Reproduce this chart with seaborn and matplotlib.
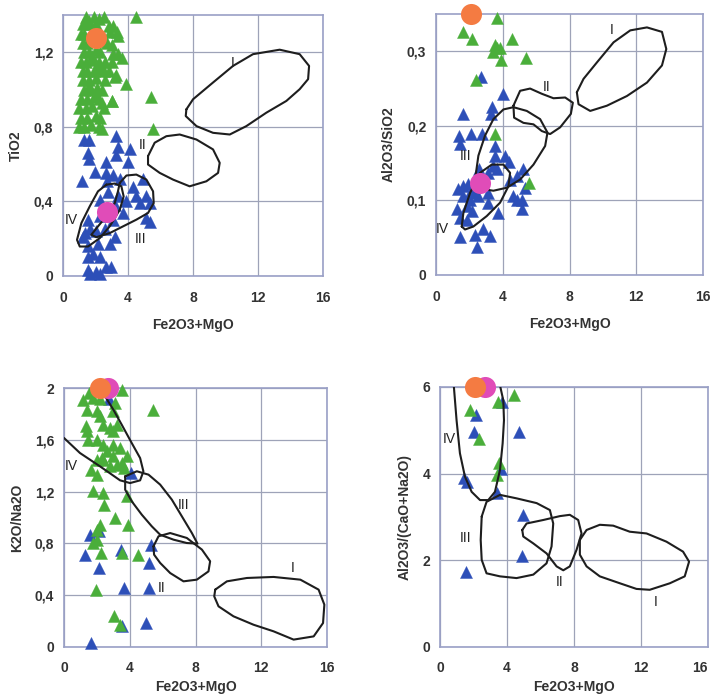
import matplotlib
matplotlib.use("Agg")
import matplotlib.pyplot as plt
import seaborn as sns
import pandas as pd

sns.set_theme(style="white")
plt.rcParams['font.family'] = ['Liberation Sans', 'DejaVu Sans']

# ---------------- data ----------------
X_LABEL = "Fe2O3+MgO"
Y_LABELS = ["TiO2", "Al2O3/SiO2", "K2O/Na2O", "Al2O3/(CaO+Na2O)"]
X_TICKS = [0, 4, 8, 12, 16]
Y_TICKS_1 = [0, 0.4, 0.8, 1.2]
Y_TICKS_2 = [0, 0.1, 0.2, 0.3]
Y_TICKS_3 = [0, 0.4, 0.8, 1.2, 1.6, 2.0]
Y_TICKS_4 = [0, 2, 4, 6]
Y_LIMS = [1.4, 0.35, 2.0, 6.0]

# Panel 1: TiO2
p1_green_x = [1.4, 1.9, 2.5, 1.6, 2.2, 1.2, 1.5, 2.0, 2.8, 3.1, 1.1, 1.3, 2.9, 3.3, 3.4,
              1.2, 1.5, 2.4, 2.7, 3.0, 1.3, 1.6, 2.0, 2.3, 3.4, 3.6, 3.1, 1.1, 1.4, 1.8,
              2.2, 2.6, 3.0, 1.2, 1.5, 1.9, 2.3, 2.5, 2.8, 1.2, 1.6, 2.0, 2.6, 3.2, 1.3,
              1.7, 2.1, 2.4, 1.1, 1.5, 1.9, 2.2, 3.0, 1.0, 1.4, 1.8, 2.5, 1.1, 1.5, 2.0,
              2.3, 1.0, 1.3, 1.7, 2.2, 2.4, 4.47, 3.24, 3.86, 3.04, 5.44, 5.54, 1.7, 2.1,
              1.6, 2.4, 1.8, 2.0]
p1_green_y = [1.39, 1.39, 1.39, 1.37, 1.38, 1.35, 1.35, 1.35, 1.34, 1.34, 1.3, 1.3, 1.31, 1.31, 1.29,
              1.25, 1.25, 1.26, 1.25, 1.24, 1.2, 1.2, 1.21, 1.2, 1.19, 1.17, 1.19, 1.15, 1.15, 1.16,
              1.15, 1.15, 1.15, 1.1, 1.1, 1.1, 1.11, 1.1, 1.1, 1.05, 1.05, 1.06, 1.05, 1.07, 1.0,
              1.0, 1.01, 1.0, 0.95, 0.95, 0.96, 0.95, 0.94, 0.9, 0.9, 0.91, 0.9, 0.85, 0.85, 0.86,
              0.85, 0.8, 0.8, 0.81, 0.8, 0.79, 1.39, 1.08, 1.03, 0.94, 0.96, 0.79, 1.28, 1.12,
              1.02, 0.93, 1.18, 0.97]
p1_blue_x = [1.27, 1.6, 1.54, 1.6, 3.24, 3.38, 4.1, 3.28, 2.67, 4.0, 1.19, 1.95, 2.63, 3.08,
             2.71, 3.53, 4.31, 4.92, 4.51, 5.13, 3.38, 2.77, 2.26, 3.18, 3.9, 4.72, 5.33, 3.7,
             1.54, 2.26, 3.08, 5.13, 5.33, 1.33, 1.64, 2.05, 2.56, 3.18, 1.23, 1.54, 2.15,
             2.87, 1.54, 1.85, 2.26, 2.63, 2.97, 1.54, 2.05, 1.64, 2.26]
p1_blue_y = [0.73, 0.73, 0.66, 0.63, 0.75, 0.69, 0.68, 0.65, 0.61, 0.61, 0.51, 0.56, 0.55, 0.54,
             0.51, 0.52, 0.48, 0.52, 0.43, 0.43, 0.43, 0.45, 0.41, 0.38, 0.40, 0.39, 0.39, 0.34,
             0.30, 0.32, 0.30, 0.31, 0.29, 0.23, 0.25, 0.24, 0.25, 0.21, 0.21, 0.16, 0.17,
             0.17, 0.10, 0.12, 0.10, 0.05, 0.05, 0.03, 0.02, 0.01, 0.01]
p1_orange = ([2.05], [1.275])
p1_magenta = ([2.71], [0.343])

# Panel 2: Al2O3/SiO2
p2_green_x = [3.68, 1.64, 2.14, 3.4, 3.54, 3.64, 3.84, 4.54, 3.9, 5.4, 2.4, 3.54, 5.6]
p2_green_y = [0.345, 0.326, 0.316, 0.299, 0.308, 0.304, 0.305, 0.316, 0.288, 0.291, 0.262, 0.189, 0.123]
p2_blue_x = [2.68, 4.04, 3.34, 3.28, 1.6, 1.4, 2.08, 2.74, 1.44, 3.54, 3.54, 4.14, 4.4, 3.44,
             3.64, 3.14, 2.6, 5.24, 4.84, 4.44, 1.3, 1.94, 2.24, 1.64, 2.04, 2.54, 3.14, 4.64,
             5.14, 4.84, 5.34, 1.24, 1.84, 2.14, 3.14, 3.7, 5.14, 1.44, 1.84, 1.44, 2.34, 2.84,
             3.24, 2.48, 2.04, 1.64]
p2_blue_y = [0.266, 0.243, 0.225, 0.216, 0.216, 0.187, 0.189, 0.189, 0.175, 0.173, 0.160, 0.160,
             0.152, 0.146, 0.142, 0.137, 0.142, 0.142, 0.133, 0.128, 0.115, 0.122, 0.113, 0.106,
             0.101, 0.106, 0.110, 0.106, 0.101, 0.101, 0.117, 0.088, 0.092, 0.086, 0.097, 0.083,
             0.088, 0.077, 0.074, 0.051, 0.054, 0.061, 0.052, 0.038, 0.110, 0.119]
p2_orange = ([2.08], [0.35])
p2_magenta = ([2.64], [0.124])

# Panel 3: K2O/Na2O
p3_green_x = [3.51, 5.44, 1.18, 1.54, 1.79, 2.19, 1.42, 1.99, 3.1, 3.0, 2.19, 2.39, 1.34, 1.38,
              2.8, 3.2, 3.0, 1.99, 1.48, 2.39, 3.0, 3.41, 3.82, 2.6, 2.29, 3.0, 2.8, 2.39, 3.51,
              3.62, 3.2, 2.03, 1.62, 1.99, 1.75, 2.39, 2.43, 3.82, 3.1, 3.92, 2.19, 1.99, 2.03,
              1.79, 2.23, 3.51, 4.53, 1.95, 3.05, 3.41]
p3_green_y = [1.987, 1.833, 1.905, 1.961, 1.923, 1.915, 1.833, 1.82, 1.884, 1.82, 1.781, 1.717,
              1.704, 1.665, 1.691, 1.717, 1.665, 1.601, 1.601, 1.562, 1.562, 1.537, 1.472, 1.511,
              1.459, 1.472, 1.395, 1.447, 1.421, 1.382, 1.408, 1.447, 1.369, 1.331, 1.202, 1.189,
              1.099, 1.163, 0.996, 0.945, 0.945, 0.906, 0.829, 0.803, 0.726, 0.726, 0.713, 0.443,
              0.237, 0.172]
p3_blue_x = [2.76, 4.08, 1.58, 2.15, 1.28, 3.45, 5.28, 5.14, 2.11, 3.66, 5.18, 5.0, 3.51, 1.62]
p3_blue_y = [1.915, 1.344, 0.867, 0.893, 0.713, 0.752, 0.79, 0.649, 0.61, 0.456, 0.456, 0.185, 0.16, 0.031]
p3_orange = ([2.19], [2.0])
p3_magenta = ([2.7], [2.0])

# Panel 4: Al2O3/(CaO+Na2O)
p4_green_x = [1.79, 2.35, 3.44, 4.43, 3.54, 3.38]
p4_green_y = [5.48, 4.81, 5.66, 5.82, 4.25, 3.97]
p4_blue_x = [3.72, 2.13, 2.03, 4.71, 3.64, 1.43, 1.59, 3.38, 4.97, 4.87, 1.55]
p4_blue_y = [5.66, 5.35, 4.97, 4.97, 4.11, 3.91, 3.80, 3.55, 3.05, 2.11, 1.73]
p4_orange = ([2.09], [6.0])
p4_magenta = ([2.68], [6.0])

# Field outlines (I - IV)
p1_I = ([7.59, 8.0, 9.23, 10.46, 11.69, 13.33, 14.56, 15.14, 15.08, 14.56, 13.74, 12.51, 11.28, 10.26, 9.23, 8.21, 7.55],
        [0.894, 0.948, 1.038, 1.127, 1.19, 1.214, 1.19, 1.127, 1.056, 1.002, 0.939, 0.876, 0.804, 0.759, 0.768, 0.804, 0.858])
p1_II = ([5.23, 5.64, 6.36, 7.18, 8.21, 9.23, 9.64, 9.54, 8.82, 7.79, 6.77, 5.95, 5.23],
         [0.643, 0.715, 0.750, 0.759, 0.732, 0.679, 0.607, 0.553, 0.508, 0.481, 0.517, 0.553, 0.598])
p1_III = ([3.49, 3.9, 4.51, 5.13, 5.54, 5.58, 5.23, 4.51, 3.69, 2.87, 2.05, 1.74, 2.15, 2.67, 3.18, 3.38],
          [0.499, 0.539, 0.544, 0.517, 0.454, 0.391, 0.338, 0.302, 0.266, 0.230, 0.208, 0.221, 0.266, 0.320, 0.391, 0.454])
p1_IV = ([2.67, 3.18, 3.59, 3.73, 3.49, 2.87, 2.26, 1.54, 1.03, 0.86, 1.13, 1.64, 2.15],
         [0.490, 0.496, 0.481, 0.427, 0.355, 0.266, 0.203, 0.158, 0.158, 0.194, 0.284, 0.373, 0.454])

p2_I = ([8.44, 8.84, 9.64, 10.64, 11.64, 12.64, 13.54, 13.8, 13.54, 12.64, 11.44, 10.24, 9.24, 8.54],
        [0.245, 0.263, 0.285, 0.312, 0.328, 0.332, 0.326, 0.303, 0.281, 0.258, 0.240, 0.227, 0.220, 0.229])
p2_II = ([4.64, 5.04, 5.64, 6.34, 7.04, 7.74, 8.2, 8.08, 7.44, 6.84, 6.34, 5.84, 5.24, 4.68],
         [0.227, 0.247, 0.250, 0.243, 0.237, 0.238, 0.231, 0.216, 0.198, 0.189, 0.193, 0.202, 0.204, 0.211])
p2_III = ([2.34, 2.54, 2.94, 3.44, 4.04, 4.64, 5.44, 6.24, 6.68, 6.54, 5.84, 5.04, 4.24, 3.44, 2.84],
          [0.128, 0.160, 0.187, 0.209, 0.222, 0.225, 0.220, 0.209, 0.191, 0.173, 0.148, 0.128, 0.117, 0.113, 0.115])
p2_IV = ([1.54, 1.64, 2.04, 2.64, 3.34, 4.04, 4.44, 4.34, 3.84, 3.04, 2.24, 1.74],
         [0.065, 0.083, 0.110, 0.137, 0.148, 0.148, 0.137, 0.119, 0.097, 0.079, 0.065, 0.061])

p3_I = ([9.2, 9.91, 11.13, 12.75, 14.38, 15.49, 15.84, 15.76, 15.19, 13.97, 12.75, 11.53, 10.31, 9.4, 9.14],
        [0.443, 0.507, 0.533, 0.541, 0.520, 0.443, 0.327, 0.185, 0.082, 0.057, 0.121, 0.172, 0.237, 0.314, 0.391])
p3_II = ([5.44, 5.75, 6.46, 7.47, 8.39, 8.89, 8.79, 8.08, 7.27, 6.46, 5.85, 5.48],
         [0.777, 0.855, 0.880, 0.842, 0.752, 0.662, 0.584, 0.520, 0.507, 0.571, 0.649, 0.713])
p3_III = ([3.72, 4.43, 5.14, 5.85, 6.56, 7.17, 7.78, 8.12, 7.47, 6.66, 5.85, 5.34, 4.73, 4.12, 3.72],
          [1.318, 1.357, 1.331, 1.254, 1.138, 1.009, 0.880, 0.798, 0.803, 0.829, 0.867, 0.932, 1.022, 1.125, 1.215])
p3_IV = ([2.4, 2.56, 3.0, 3.51, 4.12, 4.63, 4.83, 4.63, 4.02, 3.41, 2.19, 0.97, 0.0, -1.0],
         [2.1, 1.923, 1.833, 1.717, 1.575, 1.459, 1.356, 1.287, 1.266, 1.287, 1.395, 1.498, 1.614, 1.65])

p4_I = ([8.35, 8.75, 9.54, 10.34, 11.33, 12.33, 13.52, 14.51, 14.87, 14.61, 13.72, 12.52, 11.73, 10.74, 9.54, 8.75, 8.35],
        [2.47, 2.70, 2.82, 2.80, 2.66, 2.62, 2.43, 2.20, 1.97, 1.63, 1.47, 1.32, 1.34, 1.47, 1.63, 1.86, 2.13])
p4_II = ([4.91, 5.17, 6.16, 7.16, 7.75, 8.25, 8.45, 8.15, 7.75, 7.36, 6.96, 6.36, 5.57, 4.97],
         [2.70, 2.85, 2.93, 3.02, 3.05, 2.93, 2.62, 2.24, 1.86, 1.77, 1.86, 2.16, 2.39, 2.55])
p4_III = ([2.49, 2.78, 3.58, 4.57, 5.77, 6.56, 6.76, 6.66, 6.36, 5.57, 4.57, 3.58, 2.78, 2.49, 2.43],
          [3.01, 3.35, 3.51, 3.43, 3.32, 3.16, 2.85, 2.32, 1.93, 1.67, 1.59, 1.63, 1.70, 2.01, 2.47])
p4_IV = ([0.8, 0.83, 0.99, 1.19, 1.49, 1.89, 2.39, 2.88, 3.28, 3.58, 3.74, 3.82, 3.78, 3.58, 3.5],
         [6.5, 6.0, 5.23, 4.47, 3.93, 3.58, 3.39, 3.39, 3.58, 4.08, 4.70, 5.23, 5.69, 6.04, 6.5])

labels_p1 = {"I": (10.46, 1.145), "II": (4.88, 0.70), "III": (4.76, 0.197), "IV": (0.51, 0.30)}
labels_p2 = {"I": (10.54, 0.328), "II": (6.64, 0.252), "III": (1.8, 0.16), "IV": (0.4, 0.061)}
labels_p3 = {"I": (13.93, 0.61), "II": (5.95, 0.456), "III": (7.27, 1.10), "IV": (0.47, 1.40)}
labels_p4 = {"I": (12.88, 1.03), "II": (7.16, 1.49), "III": (1.55, 2.51), "IV": (0.56, 4.79)}

# ---------------- style ----------------
BLUE = "#2d4fb8"
GREEN = "#4aae3a"
ORANGE = "#f47b42"
MAGENTA = "#e04cb8"
GRID = "#9ea3b8"
SPINE = "#9aa0c6"
TEXT = "#333333"

fig = plt.figure(figsize=(7.13, 6.99), dpi=100)
fig.patch.set_facecolor("white")
rects = [
    [0.0884, 0.6052, 0.3647, 0.3733],
    [0.6115, 0.6066, 0.3745, 0.3734],
    [0.0898, 0.0744, 0.3688, 0.3705],
    [0.6171, 0.0744, 0.3759, 0.3720],
]

def fmt_dec(v):
    if v == 0:
        return "0"
    if float(v).is_integer():
        return f"{int(v)}"
    return f"{v:.1f}".replace(".", ",")

panels = [
    (p1_green_x, p1_green_y, p1_blue_x, p1_blue_y, p1_orange, p1_magenta,
     [p1_I, p1_II, p1_III, p1_IV], [True, True, True, True], labels_p1, Y_TICKS_1),
    (p2_green_x, p2_green_y, p2_blue_x, p2_blue_y, p2_orange, p2_magenta,
     [p2_I, p2_II, p2_III, p2_IV], [True, True, True, True], labels_p2, Y_TICKS_2),
    (p3_green_x, p3_green_y, p3_blue_x, p3_blue_y, p3_orange, p3_magenta,
     [p3_I, p3_II, p3_III, p3_IV], [True, True, True, False], labels_p3, Y_TICKS_3),
    (p4_green_x, p4_green_y, p4_blue_x, p4_blue_y, p4_orange, p4_magenta,
     [p4_I, p4_II, p4_III, p4_IV], [True, True, True, False], labels_p4, Y_TICKS_4),
]

for i, (gx, gy, bx, by, orange, magenta, fields, closed, labs, yticks) in enumerate(panels):
    ax = fig.add_axes(rects[i])
    ax.set_facecolor("white")
    dfb = pd.DataFrame({"x": bx, "y": by})
    dfg = pd.DataFrame({"x": gx, "y": gy})
    sns.scatterplot(data=dfb, x="x", y="y", ax=ax, marker="^", s=75, color=BLUE,
                    edgecolor=BLUE, linewidth=0.3, zorder=3, clip_on=False)
    sns.scatterplot(data=dfg, x="x", y="y", ax=ax, marker="^", s=75, color=GREEN,
                    edgecolor=GREEN, linewidth=0.3, zorder=4, clip_on=False)
    for (fx, fy), cl in zip(fields, closed):
        xs = list(fx) + ([fx[0]] if cl else [])
        ys = list(fy) + ([fy[0]] if cl else [])
        ax.plot(xs, ys, color="#1e1e1e", lw=1.5, zorder=5, solid_joinstyle="round")
    sns.scatterplot(x=magenta[0], y=magenta[1], ax=ax, marker="o", s=230, color=MAGENTA,
                    edgecolor=MAGENTA, linewidth=0, zorder=6, clip_on=False)
    sns.scatterplot(x=orange[0], y=orange[1], ax=ax, marker="o", s=230, color=ORANGE,
                    edgecolor=ORANGE, linewidth=0, zorder=7, clip_on=False)
    for name, (lx, ly) in labs.items():
        ax.text(lx, ly, name, ha="center", va="center", fontsize=10, color="#222222", zorder=8)
    ax.set_xlim(0, 16)
    ax.set_ylim(0, Y_LIMS[i])
    ax.set_xticks(X_TICKS)
    ax.set_yticks(yticks)
    ax.set_xticklabels([str(t) for t in X_TICKS])
    ax.set_yticklabels([fmt_dec(v) for v in yticks])
    ax.grid(True, color=GRID, lw=0.9)
    ax.set_axisbelow(True)
    for sp in ax.spines.values():
        sp.set_color(SPINE)
        sp.set_linewidth(1.2)
    ax.tick_params(axis="both", length=0, labelsize=10, colors=TEXT)
    ax.tick_params(axis="x", pad=11 if i < 2 else 10)
    ax.tick_params(axis="y", pad=7)
    for lab in ax.get_xticklabels() + ax.get_yticklabels():
        lab.set_fontweight("bold")
    ax.set_xlabel(X_LABEL, fontsize=10, fontweight="bold", color=TEXT,
                  labelpad=9 if i < 2 else 4)
    ax.set_ylabel(Y_LABELS[i], fontsize=10, fontweight="bold", color=TEXT, labelpad=8)
    if i == 3:
        ax.get_xticklabels()[-1].set_horizontalalignment("right")

fig.savefig("out.png", dpi=100, facecolor="white")
